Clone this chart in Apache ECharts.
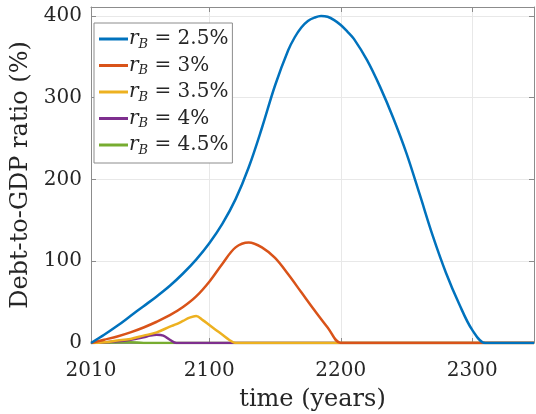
<!DOCTYPE html>
<html>
<head>
<meta charset="utf-8">
<script src="https://cdn.jsdelivr.net/npm/echarts@6/dist/echarts.min.js"></script>
<style>
  html, body { margin: 0; padding: 0; background: #fff; }
  #chart { width: 536px; height: 414px; }
</style>
</head>
<body>
<div id="chart"></div>
<script>
// debt-to-GDP ratio (%) over time, one array of [year, value] per r_B
const rate25 = [[2010, 0], [2020, 10], [2030, 21], [2040, 33], [2050, 45], [2060, 57], [2070, 70],
  [2080, 85], [2090, 102], [2100, 122], [2110, 146], [2120, 176], [2130, 215], [2140, 263],
  [2150, 315], [2160, 358], [2165, 374], [2170, 386], [2175, 394], [2180, 398], [2185, 400],
  [2190, 399], [2195, 395], [2200, 389], [2205, 381], [2210, 372], [2220, 346], [2230, 313],
  [2240, 275], [2250, 232], [2260, 182], [2270, 131], [2280, 86], [2290, 48], [2300, 16],
  [2310, 0], [2320, 0], [2347, 0]]
const rate30 = [[2010, 0], [2020, 4], [2030, 8], [2040, 13], [2050, 19], [2060, 26], [2070, 34],
  [2080, 44], [2090, 57], [2100, 75], [2110, 97], [2120, 117], [2130, 123], [2140, 117],
  [2150, 104], [2160, 84], [2170, 62], [2180, 40], [2190, 19], [2200, 0], [2210, 0], [2347, 0]]
const rate35 = [[2010, 0], [2020, 1], [2030, 3], [2040, 5], [2050, 9], [2060, 13], [2070, 20],
  [2075, 23], [2080, 27], [2085, 31], [2090, 33], [2095, 28], [2100, 22], [2105, 16], [2110, 10],
  [2115, 4], [2120, 0], [2130, 0], [2347, 0]]
const rate40 = [[2010, 0], [2020, 1], [2030, 2], [2040, 4], [2050, 7], [2055, 9], [2060, 10], [2065, 9],
  [2070, 4], [2075, 0], [2085, 0], [2347, 0]]
const rate45 = [[2010, 0], [2030, 1], [2040, 1], [2050, 0], [2347, 0]]

const seriesNames = ['2.5%', '3%', '3.5%', '4%', '4.5%']
const seriesData = [rate25, rate30, rate35, rate40, rate45]
const colors = ['#0072BD', '#D95319', '#EDB120', '#7E2F8E', '#77AC30']

const xTicks = [2010, 2100, 2200, 2300]

const serif = 'DejaVu Serif'
const axisColor = '#8c8c8c'
const textColor = '#262626'

const chart = echarts.init(document.getElementById('chart'))

const baseX = {
  type: 'value',
  min: 2010,
  max: 2347,
  axisLine: { show: true, onZero: false, lineStyle: { color: axisColor, width: 1 } },
  axisTick: { show: true, inside: true, length: 5, customValues: xTicks, lineStyle: { color: axisColor } },
  splitLine: { show: false }
}
const baseY = {
  type: 'value',
  min: 0,
  max: 411,
  interval: 100,
  axisLine: { show: true, lineStyle: { color: axisColor, width: 1 } },
  axisTick: { show: true, inside: true, length: 5, lineStyle: { color: axisColor } },
  splitLine: { show: false }
}

const option = {
  animation: false,
  backgroundColor: '#fff',
  grid: { left: 91, right: 2, top: 7, bottom: 71, outerBoundsMode: 'none' },
  xAxis: [
    {
      ...baseX,
      position: 'bottom',
      name: 'time (years)',
      nameLocation: 'middle',
      nameGap: 45,
      nameTextStyle: { fontFamily: serif, fontSize: 24, fontWeight: 'normal', color: textColor },
      axisLabel: {
        customValues: xTicks, margin: 18, fontFamily: serif, fontSize: 20, color: textColor,
        formatter: v => String(v)
      },
      splitLine: { show: true, lineStyle: { color: '#e8e8e8', width: 1 } }
    },
    { ...baseX, position: 'top', axisLabel: { show: false } }
  ],
  yAxis: [
    {
      ...baseY,
      position: 'left',
      name: 'Debt-to-GDP ratio (%)',
      nameLocation: 'middle',
      nameGap: 44,
      nameTextStyle: { fontFamily: serif, fontSize: 24, fontWeight: 'normal', color: textColor },
      axisLabel: { margin: 9, fontFamily: serif, fontSize: 20, color: textColor },
      splitLine: { show: true, lineStyle: { color: '#e8e8e8', width: 1 } }
    },
    { ...baseY, position: 'right', axisLabel: { show: false } }
  ],
  legend: {
    left: 94,
    top: 23,
    orient: 'vertical',
    backgroundColor: '#fff',
    borderColor: '#8c8c8c',
    borderWidth: 1,
    borderRadius: 0,
    padding: [6, 4, 6, 5],
    itemGap: 4.5,
    itemWidth: 29,
    itemHeight: 3,
    icon: 'rect',
    data: seriesNames,
    formatter: name => '{i|r}{s|B}{t| = ' + name + '}',
    textStyle: {
      fontFamily: serif,
      color: textColor,
      padding: [0, 0, 0, -4],
      rich: {
        i: { fontFamily: serif, fontStyle: 'italic', fontSize: 20, lineHeight: 24 },
        s: { fontFamily: serif, fontStyle: 'italic', fontSize: 13, lineHeight: 14, verticalAlign: 'bottom' },
        t: { fontFamily: serif, fontSize: 20, lineHeight: 24 }
      }
    }
  },
  series: seriesData.map((d, k) => ({
    name: seriesNames[k],
    type: 'line',
    data: d,
    smooth: 0.35,
    symbol: 'none',
    z: 10 - k,
    lineStyle: { color: colors[k], width: 2.5 },
    itemStyle: { color: colors[k] }
  }))
}

chart.setOption(option)
</script>
</body>
</html>
